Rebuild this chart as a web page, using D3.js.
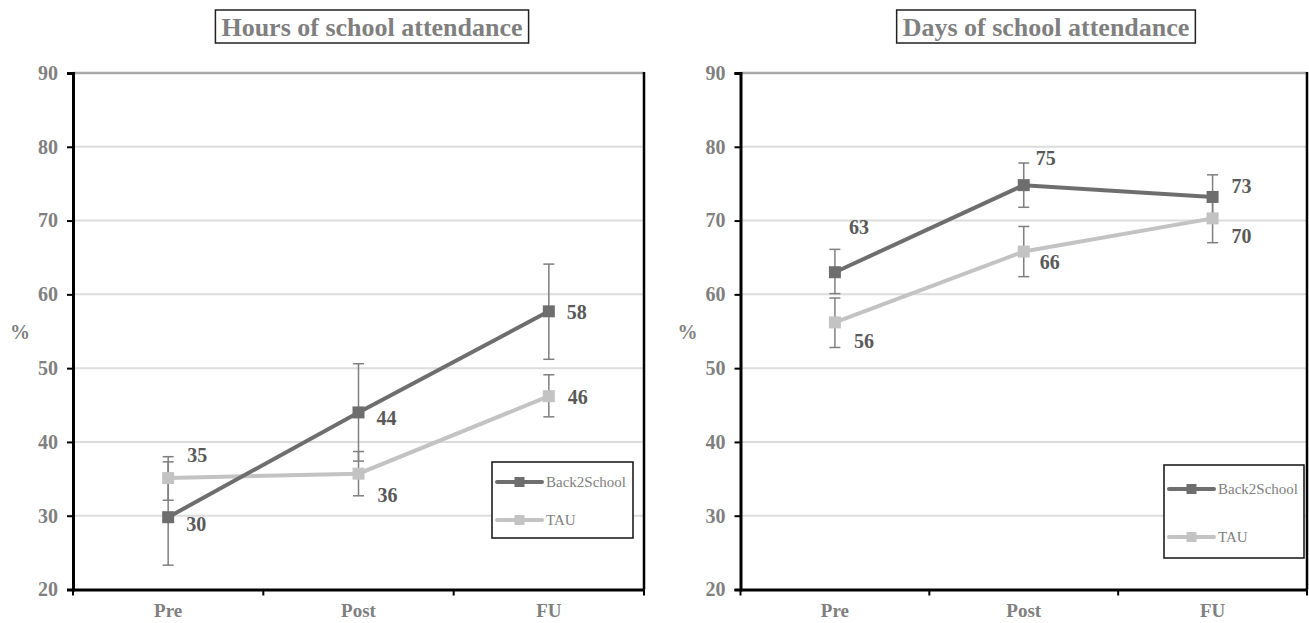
<!DOCTYPE html>
<html>
<head>
<meta charset="utf-8">
<script src="https://cdn.jsdelivr.net/npm/d3@7"></script>
<style>
  html, body { margin: 0; padding: 0; background: #fff; }
  svg { display: block; }
  text { font-family: "Liberation Serif", "Times New Roman", serif; }
</style>
</head>
<body>
<script>
// ---------- DATA ----------
const categories = ["Pre", "Post", "FU"];
const yTickValues = [20, 30, 40, 50, 60, 70, 80, 90];
const seriesNames = ["Back2School", "TAU"];

const titles = ["Hours of school attendance", "Days of school attendance"];

// Hours of school attendance
const hoursB2S      = [29.8, 44.0, 57.7];
const hoursB2SLow   = [23.3, 37.4, 51.2];
const hoursB2SHigh  = [37.3, 50.6, 64.1];
const hoursB2SLabel = ["30", "44", "58"];
const hoursTAU      = [35.1, 35.7, 46.2];
const hoursTAULow   = [32.1, 32.7, 43.4];
const hoursTAUHigh  = [38.0, 38.7, 49.1];
const hoursTAULabel = ["35", "36", "46"];

// Days of school attendance
const daysB2S      = [63.0, 74.8, 73.2];
const daysB2SLow   = [60.1, 71.8, 70.1];
const daysB2SHigh  = [66.1, 77.8, 76.2];
const daysB2SLabel = ["63", "75", "73"];
const daysTAU      = [56.2, 65.8, 70.3];
const daysTAULow   = [52.8, 62.4, 67.0];
const daysTAUHigh  = [59.5, 69.2, 73.6];
const daysTAULabel = ["56", "66", "70"];

// ---------- LAYOUT ----------
const W = 1309, H = 623;
const svg = d3.select("body").append("svg").attr("width", W).attr("height", H);

const colB2S = "#6e6e6e", colTAU = "#c3c3c3";
const tickGray = "#808080", labelGray = "#595959";

function panel(cfg) {
  const g = svg.append("g");
  const x = d3.scaleBand().domain(categories).range([cfg.x0, cfg.x1]).paddingInner(0).paddingOuter(0);
  const y = d3.scaleLinear().domain([20, 90]).range([589.5, 73]);
  const cx = c => x(c) + x.bandwidth() / 2;

  // gridlines
  g.append("g").selectAll("line").data(yTickValues.filter(v => v > 20 && v < 90)).join("line")
    .attr("x1", cfg.x0).attr("x2", cfg.x1).attr("y1", d => y(d)).attr("y2", d => y(d))
    .attr("stroke", "#dcdcdc").attr("stroke-width", 2);
  // top line (at 90)
  g.append("line").attr("x1", cfg.x0).attr("x2", cfg.x1).attr("y1", y(90)).attr("y2", y(90))
    .attr("stroke", "#a8a8a8").attr("stroke-width", 2.5);
  // right border
  g.append("line").attr("x1", cfg.x1).attr("x2", cfg.x1).attr("y1", y(90) - 1).attr("y2", y(20))
    .attr("stroke", "#000").attr("stroke-width", 2.5);

  // y axis
  const yAxis = d3.axisLeft(y).tickValues(yTickValues).tickSize(6).tickPadding(9).tickFormat(d3.format("d"));
  const ya = g.append("g").attr("transform", `translate(${cfg.x0},0)`).call(yAxis)
    .attr("font-family", null);
  ya.select(".domain").attr("stroke", "#000").attr("stroke-width", 3);
  ya.selectAll(".tick line").attr("stroke", "#000").attr("stroke-width", 2);
  ya.selectAll(".tick text").attr("fill", tickGray).attr("font-size", 20).attr("font-weight", "bold");

  // x axis
  const xa = g.append("g").attr("transform", `translate(0,${y(20)})`)
    .call(d3.axisBottom(x).tickSize(0).tickPadding(14)).attr("font-family", null);
  xa.select(".domain").attr("stroke", "#000").attr("stroke-width", 3);
  xa.selectAll(".tick text").attr("fill", tickGray).attr("font-size", 19).attr("font-weight", "bold");
  // boundary ticks
  const bounds = [0, 1, 2, 3].map(i => cfg.x0 + i * x.bandwidth());
  g.append("g").selectAll("line").data(bounds).join("line")
    .attr("x1", d => d).attr("x2", d => d).attr("y1", y(20)).attr("y2", y(20) + 6)
    .attr("stroke", "#000").attr("stroke-width", 2);

  // % label
  g.append("text").attr("x", cfg.x0 - 53).attr("y", 332).attr("text-anchor", "middle")
    .attr("dominant-baseline", "central").attr("fill", tickGray).attr("font-size", 20)
    .attr("font-weight", "bold").text("%");

  // title
  const tg = g.append("g");
  const tt = tg.append("text").attr("x", cfg.titleX).attr("y", 27).attr("text-anchor", "middle")
    .attr("dominant-baseline", "central").attr("fill", "#7f7f7f").attr("font-size", 26)
    .attr("font-weight", "bold").text(cfg.title);
  const bb = tt.node().getBBox();
  tg.insert("rect", "text").attr("x", bb.x - 6).attr("y", 10).attr("width", bb.width + 12).attr("height", 33)
    .attr("fill", "#fff").attr("stroke", "#222").attr("stroke-width", 1.5);

  const series = [
    { name: "TAU", vals: cfg.tau, lo: cfg.tauLo, hi: cfg.tauHi, lab: cfg.tauLab, col: colTAU, off: cfg.tauOff },
    { name: "Back2School", vals: cfg.b2s, lo: cfg.b2sLo, hi: cfg.b2sHi, lab: cfg.b2sLab, col: colB2S, off: cfg.b2sOff }
  ];

  // error bars
  const eb = g.append("g").attr("stroke", "#7f7f7f").attr("stroke-width", 1.5);
  series.forEach(s => {
    categories.forEach((c, i) => {
      const xc = cx(c);
      eb.append("line").attr("x1", xc).attr("x2", xc).attr("y1", y(s.lo[i])).attr("y2", y(s.hi[i]));
      [s.lo[i], s.hi[i]].forEach(v => {
        eb.append("line").attr("x1", xc - 5.5).attr("x2", xc + 5.5).attr("y1", y(v)).attr("y2", y(v));
      });
    });
  });

  // lines + markers
  const line = d3.line().x((d, i) => cx(categories[i])).y(d => y(d));
  series.forEach(s => {
    g.append("path").datum(s.vals).attr("d", line).attr("fill", "none")
      .attr("stroke", s.col).attr("stroke-width", 4);
    g.append("g").selectAll("rect").data(s.vals).join("rect")
      .attr("x", (d, i) => cx(categories[i]) - 6).attr("y", d => y(d) - 6)
      .attr("width", 12).attr("height", 12).attr("fill", s.col);
  });

  // data labels
  series.forEach(s => {
    g.append("g").selectAll("text").data(s.vals).join("text")
      .attr("x", (d, i) => cx(categories[i]) + s.off[i][0])
      .attr("y", (d, i) => y(d) + s.off[i][1])
      .attr("text-anchor", "middle").attr("dominant-baseline", "central")
      .attr("fill", labelGray).attr("font-size", 20).attr("font-weight", "bold")
      .text((d, i) => s.lab[i]);
  });

  // legend
  const L = cfg.legend;
  const lg = g.append("g");
  lg.append("rect").attr("x", L.x).attr("y", L.y).attr("width", L.w).attr("height", L.h)
    .attr("fill", "#fff").attr("stroke", "#111").attr("stroke-width", 1.5);
  const legendItems = [
    { name: seriesNames[0], col: colB2S, yy: L.y1 },
    { name: seriesNames[1], col: colTAU, yy: L.y2 }
  ];
  legendItems.forEach(it => {
    lg.append("line").attr("x1", L.x + 5).attr("x2", L.x + 50).attr("y1", it.yy).attr("y2", it.yy)
      .attr("stroke", it.col).attr("stroke-width", 4).attr("stroke-linecap", "round");
    lg.append("rect").attr("x", L.x + 27.5 - 5).attr("y", it.yy - 5).attr("width", 10).attr("height", 10)
      .attr("fill", it.col);
    lg.append("text").attr("x", L.x + 54).attr("y", it.yy).attr("dominant-baseline", "central")
      .attr("fill", "#808080").attr("font-size", 15).text(it.name);
  });
}

panel({
  x0: 73, x1: 644, titleX: 372, title: titles[0],
  b2s: hoursB2S, b2sLo: hoursB2SLow, b2sHi: hoursB2SHigh, b2sLab: hoursB2SLabel,
  tau: hoursTAU, tauLo: hoursTAULow, tauHi: hoursTAUHigh, tauLab: hoursTAULabel,
  b2sOff: [[28, 7], [28, 6], [28, 1]],
  tauOff: [[29, -23], [29, 21], [29, 1]],
  legend: { x: 492, y: 462, w: 141, h: 76, y1: 482, y2: 520 }
});

panel({
  x0: 740.5, x1: 1307, titleX: 1046, title: titles[1],
  b2s: daysB2S, b2sLo: daysB2SLow, b2sHi: daysB2SHigh, b2sLab: daysB2SLabel,
  tau: daysTAU, tauLo: daysTAULow, tauHi: daysTAUHigh, tauLab: daysTAULabel,
  b2sOff: [[24, -45], [22, -27], [29, -11]],
  tauOff: [[29, 19], [26, 10], [29, 18]],
  legend: { x: 1164, y: 465, w: 140, h: 93, y1: 489, y2: 537 }
});
</script>
</body>
</html>
